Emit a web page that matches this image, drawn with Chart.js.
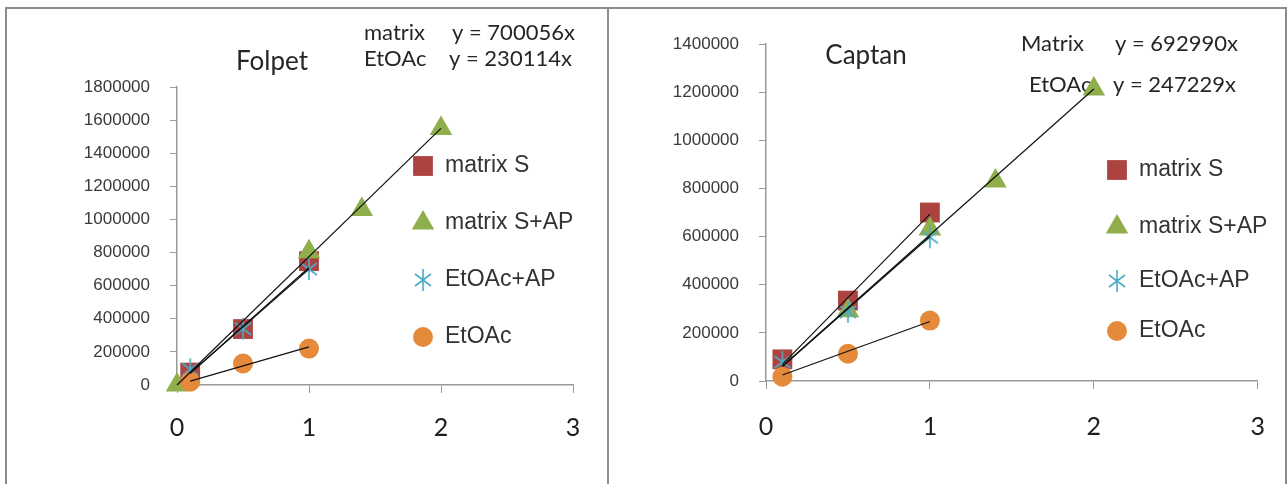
<!DOCTYPE html>
<html>
<head>
<meta charset="utf-8">
<script src="https://cdn.jsdelivr.net/npm/chart.js@4/dist/chart.umd.js"></script>
<style>
  html, body { margin: 0; padding: 0; background: #fff; }
  body { width: 1288px; height: 484px; position: relative; overflow: hidden; }
  .box { position: absolute; top: 7px; height: 500px; border: 2px solid #8c8c8c; box-sizing: border-box; }
  #box1 { left: 5px; width: 604px; }
  #box2 { left: 607px; width: 680px; }
  canvas { position: absolute; top: 0; }
  #folpet { left: 0; }
  #captan { left: 609px; }
</style>
</head>
<body>
<div class="box" id="box1"></div>
<div class="box" id="box2"></div>
<canvas id="folpet" width="607" height="484"></canvas>
<canvas id="captan" width="679" height="484"></canvas>
<script>
// ---- data ----
const xTicks = [0, 1, 2, 3];
const seriesNames = ['matrix S', 'matrix S+AP', 'EtOAc+AP', 'EtOAc'];

// Folpet
const folpetYTicks = [0, 200000, 400000, 600000, 800000, 1000000, 1200000, 1400000, 1600000, 1800000];
const folpetMatrixSX = [0.1, 0.5, 1];
const folpetMatrixSY = [75000, 338000, 748000];
const folpetMatrixApX = [0, 1, 1.4, 2];
const folpetMatrixApY = [0, 805000, 1060000, 1550000];
const folpetEtoacApX = [0.1, 0.5, 1];
const folpetEtoacApY = [95000, 340000, 700000];
const folpetEtoacX = [0.1, 0.5, 1];
const folpetEtoacY = [20000, 130000, 220000];
// trend lines (end points)
const folpetTrendMatrixSX = [0.1, 1];
const folpetTrendMatrixSY = [70006, 700056];
const folpetTrendMatrixApX = [0, 2];
const folpetTrendMatrixApY = [0, 1550000];
const folpetTrendEtoacApX = [0.1, 1];
const folpetTrendEtoacApY = [71000, 710000];
const folpetTrendEtoacX = [0.1, 1];
const folpetTrendEtoacY = [23011, 230114];

// Captan
const captanYTicks = [0, 200000, 400000, 600000, 800000, 1000000, 1200000, 1400000];
const captanMatrixSX = [0.1, 0.5, 1];
const captanMatrixSY = [90000, 334000, 700000];
const captanMatrixApX = [0.5, 1, 1.4, 2];
const captanMatrixApY = [292000, 631000, 831000, 1213000];
const captanEtoacApX = [0.1, 0.5, 1];
const captanEtoacApY = [79000, 287000, 597000];
const captanEtoacX = [0.1, 0.5, 1];
const captanEtoacY = [18000, 113000, 251000];
const captanTrendMatrixSX = [0.1, 1];
const captanTrendMatrixSY = [69299, 692990];
const captanTrendMatrixApX = [0.1, 2];
const captanTrendMatrixApY = [61000, 1213000];
const captanTrendEtoacApX = [0.1, 1];
const captanTrendEtoacApY = [60000, 600000];
const captanTrendEtoacX = [0.1, 1];
const captanTrendEtoacY = [24723, 247229];

// ---- styles ----
const RED = '#AC4341';
const GREEN = '#8FAE4C';
const CYAN = '#4BACC6';
const ORANGE = '#E48A3A';
const CALIBRI = 'Lato, "Open Sans", sans-serif';
const ARIAL = '"Liberation Sans", Arial, sans-serif';

const pts = (xs, ys) => xs.map((x, i) => ({ x: x, y: ys[i] }));

function asterisk(color) {
  const c = document.createElement('canvas');
  c.width = 20; c.height = 24;
  const g = c.getContext('2d');
  g.strokeStyle = color;
  g.lineWidth = 1.6;
  g.beginPath();
  g.moveTo(10, 1); g.lineTo(10, 23);
  g.moveTo(2, 6); g.lineTo(18, 18);
  g.moveTo(2, 18); g.lineTo(18, 6);
  g.stroke();
  return c;
}
const star = asterisk(CYAN);

// title, equations and legend drawn on the canvas
const decor = {
  id: 'decor',
  beforeDatasetsDraw(chart, args, o) {
    const ctx = chart.ctx;
    ctx.save();
    ctx.fillStyle = '#262626';
    ctx.textBaseline = 'middle';
    ctx.textAlign = 'center';
    ctx.font = '26px ' + CALIBRI;
    ctx.fillText(o.title, o.titleX, o.titleY);
    ctx.textAlign = 'left';
    ctx.font = '22px ' + CALIBRI;
    o.eqs.forEach(e => ctx.fillText(e[0], e[1], e[2]));
    ctx.restore();
  },
  afterDatasetsDraw(chart, args, o) {
    const ctx = chart.ctx;
    const sets = chart.data.datasets.filter(d => d.label);
    ctx.save();
    ctx.font = '23px ' + ARIAL;
    ctx.textBaseline = 'middle';
    ctx.textAlign = 'left';
    sets.forEach((d, i) => {
      const y = o.legendY[i];
      ctx.fillStyle = d.backgroundColor;
      Chart.helpers.drawPoint(ctx, { pointStyle: d.pointStyle, radius: d.pointRadius, rotation: 0, borderWidth: 0 }, o.legendX, y);
      ctx.fillStyle = '#333';
      ctx.fillText(d.label, o.legendX + 22, y);
    });
    ctx.restore();
  }
};

function makeChart(id, s, yTicks, box, deco) {
  const trend = (xs, ys) => ({
    data: pts(xs, ys), showLine: true, borderColor: '#111', borderWidth: 1.2,
    pointRadius: 0, fill: false, order: 0, clip: false
  });
  new Chart(document.getElementById(id), {
    type: 'scatter',
    data: {
      datasets: [
        { label: seriesNames[0], data: s[0], pointStyle: 'rect', pointRadius: 14, backgroundColor: RED, pointBorderWidth: 0, order: 4, clip: false },
        { label: seriesNames[1], data: s[1], pointStyle: 'triangle', pointRadius: 13, backgroundColor: GREEN, pointBorderWidth: 0, order: 3, clip: false },
        { label: seriesNames[2], data: s[2], pointStyle: star, pointRadius: 11, backgroundColor: CYAN, pointBorderWidth: 0, order: 2, clip: false },
        { label: seriesNames[3], data: s[3], pointStyle: 'circle', pointRadius: 10, backgroundColor: ORANGE, pointBorderWidth: 0, order: 1, clip: false },
        trend(s[4][0], s[4][1]),
        trend(s[5][0], s[5][1]),
        trend(s[6][0], s[6][1]),
        trend(s[7][0], s[7][1])
      ]
    },
    options: {
      responsive: false,
      animation: false,
      layout: { padding: { left: 0, top: box.top, right: box.right, bottom: 0 } },
      plugins: { legend: { display: false }, tooltip: { enabled: false }, decor: deco },
      scales: {
        x: {
          type: 'linear', min: 0, max: 3,
          afterBuildTicks: a => { a.ticks = xTicks.map(v => ({ value: v })); },
          afterFit: a => { a.height = box.xh; },
          grid: { drawOnChartArea: false, drawTicks: true, tickLength: 8, color: '#9a9a9a' },
          border: { color: '#9a9a9a', width: 1.5 },
          ticks: { padding: box.xpad, color: '#1e1e1e', font: { family: CALIBRI, size: 25 }, callback: v => String(v) }
        },
        y: {
          type: 'linear', min: 0, max: yTicks[yTicks.length - 1],
          afterBuildTicks: a => { a.ticks = yTicks.map(v => ({ value: v })); },
          afterFit: a => { a.width = box.yw; },
          grid: { drawOnChartArea: false, drawTicks: true, tickLength: 7, color: '#9a9a9a' },
          border: { color: '#9a9a9a', width: 1.5 },
          ticks: { padding: 20, color: '#3a3a3a', font: { family: ARIAL, size: 17 }, callback: v => String(v) }
        }
      }
    },
    plugins: [decor]
  });
}

makeChart('folpet', [
  pts(folpetMatrixSX, folpetMatrixSY),
  pts(folpetMatrixApX, folpetMatrixApY),
  pts(folpetEtoacApX, folpetEtoacApY),
  pts(folpetEtoacX, folpetEtoacY),
  [folpetTrendMatrixSX, folpetTrendMatrixSY],
  [folpetTrendMatrixApX, folpetTrendMatrixApY],
  [folpetTrendEtoacApX, folpetTrendEtoacApY],
  [folpetTrendEtoacX, folpetTrendEtoacY]
], folpetYTicks,
  { top: 87, right: 34, yw: 177, xh: 99, xpad: 20 },
  { title: 'Folpet', titleX: 272, titleY: 62,
    eqs: [['matrix', 364, 33], ['y = 700056x', 452, 33], ['EtOAc', 364, 59], ['y = 230114x', 449, 59]],
    legendX: 423, legendY: [166, 223, 280, 337] });

makeChart('captan', [
  pts(captanMatrixSX, captanMatrixSY),
  pts(captanMatrixApX, captanMatrixApY),
  pts(captanEtoacApX, captanEtoacApY),
  pts(captanEtoacX, captanEtoacY),
  [captanTrendMatrixSX, captanTrendMatrixSY],
  [captanTrendMatrixApX, captanTrendMatrixApY],
  [captanTrendEtoacApX, captanTrendEtoacApY],
  [captanTrendEtoacX, captanTrendEtoacY]
], captanYTicks,
  { top: 44, right: 28, yw: 157, xh: 103, xpad: 23 },
  { title: 'Captan', titleX: 257, titleY: 56,
    eqs: [['Matrix', 412, 44], ['y = 692990x', 506, 44], ['EtOAc', 420, 85], ['y = 247229x', 504, 85]],
    legendX: 508, legendY: [170, 227, 281, 331] });
</script>
</body>
</html>
